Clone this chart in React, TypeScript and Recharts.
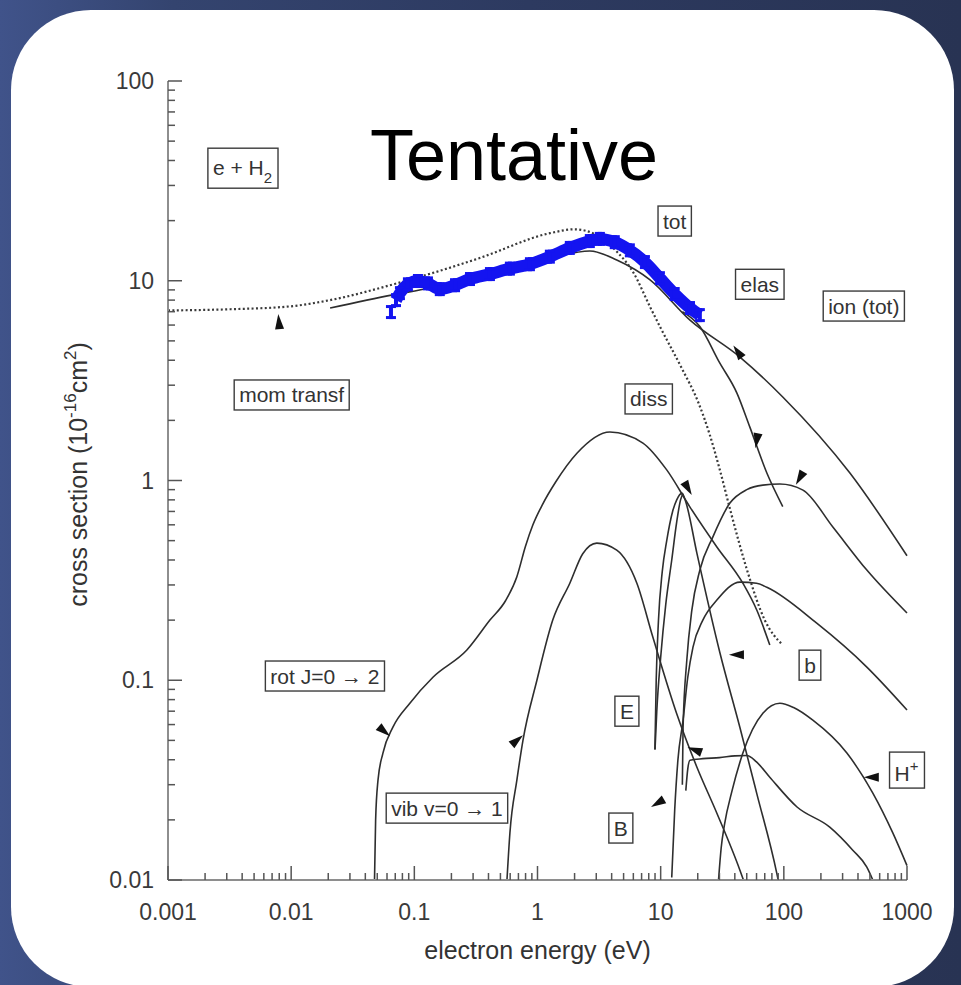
import { ComposedChart, Line, Scatter, XAxis, YAxis } from "recharts";

type Pt = [number, number];

// e + H2 cross sections: electron energy (eV) vs cross section (1e-16 cm^2)
const momTransfer: Pt[] = [
  [0.001, 7.1], [0.0032, 7.2], [0.01, 7.45], [0.0207, 8.0], [0.072, 9.7], [0.34, 13.0],
  [1.26, 17.3], [2.0, 18.1], [3.2, 16.6], [4.4, 14.0], [6.0, 11.0], [8.2, 7.4], [10, 5.8],
  [15, 3.6], [20, 2.5], [25, 1.7], [30, 1.15], [37, 0.7], [50, 0.36], [70, 0.2], [98, 0.15],
];

const totalCs: Pt[] = [
  [0.0207, 7.3], [0.067, 8.5], [0.134, 9.2], [0.34, 10.7], [1.26, 13.0], [2.66, 14.1],
  [4.4, 12.7], [8.2, 10.1], [17.3, 6.35], [44, 4.15], [98, 2.62], [344, 1.09], [1000, 0.42],
];

const elastic: Pt[] = [
  [15, 7.0], [20.8, 5.9], [30, 3.9], [41.6, 2.74], [53, 1.85], [72.8, 1.09], [98, 0.74],
];

const rotational: Pt[] = [
  [0.0475, 0.01], [0.0485, 0.02], [0.0507, 0.0316], [0.0556, 0.0432], [0.067, 0.0582],
  [0.092, 0.0767], [0.1416, 0.1035], [0.267, 0.1416], [0.411, 0.2], [0.55, 0.25],
  [0.68, 0.33], [0.8, 0.47], [0.918, 0.6], [1.1, 0.76], [1.4, 0.98], [2.09, 1.37],
  [3.87, 1.75], [7.18, 1.54], [11.2, 1.13], [17.3, 0.736], [28.6, 0.465], [46.5, 0.306],
  [60.4, 0.224], [76.9, 0.15],
];

const vibrational: Pt[] = [
  [0.565, 0.01], [0.597, 0.0172], [0.68, 0.0316], [0.762, 0.05], [0.989, 0.1], [1.33, 0.2],
  [1.83, 0.306], [2.33, 0.43], [3.03, 0.486], [4.4, 0.448], [6.41, 0.306], [8.65, 0.164],
  [13.5, 0.068], [19.7, 0.0367], [28.6, 0.0216], [44, 0.0112], [47, 0.01],
];

const dissociation: Pt[] = [
  [9.0, 0.045], [9.3, 0.07], [10.0, 0.13], [11.0, 0.24], [12.3, 0.4], [13.5, 0.62],
  [14.5, 0.8], [15.2, 0.86],
];

const tripletB: Pt[] = [
  [8.98, 0.045], [9.2, 0.1], [9.6, 0.2], [10.3, 0.35], [11.2, 0.5], [12.5, 0.7], [13.5, 0.8],
  [14.9, 0.865], [16.0, 0.78], [19.7, 0.432], [30.3, 0.137], [44, 0.058], [60.4, 0.027],
  [87.7, 0.0108], [90, 0.01],
];

const singletB: Pt[] = [
  [12.3, 0.0103], [13.0, 0.0224], [13.8, 0.0398], [15.2, 0.0631], [16.6, 0.1035],
  [18.3, 0.1466], [22, 0.2], [28.6, 0.252], [44, 0.31], [60, 0.306], [72.8, 0.292],
  [185, 0.193], [472, 0.1164], [1000, 0.071],
];

const singletE: Pt[] = [
  [16.0, 0.028], [16.6, 0.036], [17.3, 0.0398], [22, 0.0405], [30, 0.041], [40, 0.0418],
  [50, 0.042], [60, 0.039], [76.9, 0.0327], [128, 0.0232], [236, 0.0184], [363, 0.0141],
  [472, 0.0116], [528, 0.01],
];

const ionTotal: Pt[] = [
  [15.0, 0.03], [15.2, 0.0582], [16.3, 0.126], [17.9, 0.224], [20.8, 0.356], [26.5, 0.521],
  [36.5, 0.771], [50, 0.9], [67.6, 0.948], [92.9, 0.96], [143, 0.895], [250, 0.585],
  [472, 0.356], [1000, 0.217],
];

const protonIon: Pt[] = [
  [29.5, 0.01], [31, 0.0145], [33, 0.019], [38, 0.028], [46.5, 0.0432], [67.6, 0.0684],
  [92.9, 0.0767], [120, 0.073], [172, 0.0631], [325, 0.0432], [528, 0.0272], [767, 0.0172],
  [1000, 0.0118],
];

// measured total cross section (blue)
const measured: Pt[] = [
  [0.0646, 6.97], [0.071, 8.0], [0.0764, 8.67], [0.0887, 9.6], [0.107, 9.97], [0.129, 9.7],
  [0.161, 9.08], [0.214, 9.5], [0.283, 10.2], [0.411, 10.8], [0.597, 11.5], [0.868, 12.1],
  [1.26, 13.2], [1.83, 14.6], [2.66, 15.8], [3.21, 16.2], [4.24, 15.6], [5.62, 14.2],
  [7.45, 12.4], [9.86, 10.3], [13.0, 8.58], [17.3, 7.3], [20.8, 6.73],
];

const xDecades = [0.001, 0.01, 0.1, 1, 10, 100, 1000];
const xTickLabels = ["0.001", "0.01", "0.1", "1", "10", "100", "1000"];
const yDecades = [0.01, 0.1, 1, 10, 100];
const yTickLabels = ["0.01", "0.1", "1", "10", "100"];
const minorSteps = [2, 3, 4, 5, 6, 7, 8, 9];

const curveLabels = [
  { x: 0.00406, y: 36.6, text: "e + H_2" },
  { x: 13.0, y: 19.9, text: "tot" },
  { x: 63.8, y: 9.6, text: "elas" },
  { x: 446, y: 7.47, text: "ion (tot)" },
  { x: 8.0, y: 2.56, text: "diss" },
  { x: 0.0101, y: 2.68, text: "mom transf" },
  { x: 0.0188, y: 0.105, text: "rot J=0 → 2" },
  { x: 0.184, y: 0.0229, text: "vib v=0 → 1" },
  { x: 5.32, y: 0.07, text: "E" },
  { x: 4.75, y: 0.0182, text: "B" },
  { x: 163, y: 0.119, text: "b" },
  { x: 1000, y: 0.0355, text: "H^+" },
];

const pointers = [
  { x: 0.00796, y: 6.21, angle: -95 },
  { x: 42.4, y: 4.4, angle: -125 },
  { x: 60.4, y: 1.59, angle: 100 },
  { x: 135, y: 1.03, angle: 120 },
  { x: 16.6, y: 0.917, angle: 60 },
  { x: 41.6, y: 0.134, angle: 180 },
  { x: 19.0, y: 0.0447, angle: 200 },
  { x: 9.5, y: 0.0243, angle: 150 },
  { x: 0.68, y: 0.05, angle: -40 },
  { x: 0.0567, y: 0.0556, angle: 40 },
  { x: 518, y: 0.0327, angle: 180 },
];

const ink = "#2e2e2e";
const frameColor = "#8e8e8e";
const blue = "#1414f0";
const font = '"Liberation Sans", Arial, Helvetica, sans-serif';

const rows = (pts: Pt[]) => pts.map(([x, y]) => ({ x, y }));

const withMinors = (decades: number[]) =>
  decades.flatMap((d, i) => (i < decades.length - 1 ? [d, ...minorSteps.map((m) => m * d)] : [d]));

const xTicks = withMinors(xDecades);
const yTicks = withMinors(yDecades);

const decadeIndex = (decades: number[], v: number) =>
  decades.findIndex((d) => Math.abs(v / d - 1) < 1e-6);

let measureCtx: CanvasRenderingContext2D | null = null;
const textWidth = (s: string, size: number) => {
  if (!measureCtx) measureCtx = document.createElement("canvas").getContext("2d");
  if (!measureCtx) return s.length * size * 0.55;
  measureCtx.font = `${size}px "Liberation Sans"`;
  return measureCtx.measureText(s).width;
};

const XTick = (p: any) => {
  const { x, y, payload } = p;
  const idx = decadeIndex(xDecades, payload.value);
  const major = idx >= 0;
  return (
    <g>
      <line x1={x} x2={x} y1={y} y2={y - (major ? 14 : 7)} stroke="#555" strokeWidth={1.5} />
      {major && (
        <text x={x} y={y + 40} textAnchor="middle" fontSize={23} fontFamily={font} fill="#3a3a3a">
          {xTickLabels[idx]}
        </text>
      )}
    </g>
  );
};

const YTick = (p: any) => {
  const { x, y, payload } = p;
  const idx = decadeIndex(yDecades, payload.value);
  const major = idx >= 0;
  return (
    <g>
      <line x1={x} x2={x + (major ? 14 : 7)} y1={y} y2={y} stroke="#555" strokeWidth={1.5} />
      {major && (
        <text x={x - 14} y={y + 8} textAnchor="end" fontSize={23} fontFamily={font} fill="#3a3a3a">
          {yTickLabels[idx]}
        </text>
      )}
    </g>
  );
};

const YTitle = (p: any) => {
  const vb = p.viewBox || { x: 108, y: 81, width: 60, height: 799 };
  const cx = vb.x - 21;
  const cy = vb.y + vb.height / 2 - 6;
  return (
    <text
      transform={`translate(${cx},${cy}) rotate(-90)`}
      textAnchor="middle"
      fontSize={25}
      fontFamily={font}
      fill="#333"
    >
      cross section (10
      <tspan dy={-11} fontSize={17}>-16</tspan>
      <tspan dy={11}>cm</tspan>
      <tspan dy={-11} fontSize={17}>2</tspan>
      <tspan dy={11}>)</tspan>
    </text>
  );
};

const XTitle = (p: any) => {
  const vb = p.viewBox || { x: 168, y: 880, width: 739, height: 40 };
  return (
    <text
      x={vb.x + vb.width / 2}
      y={vb.y + 79}
      textAnchor="middle"
      fontSize={25}
      fontFamily={font}
      fill="#333"
    >
      electron energy (eV)
    </text>
  );
};

const LabelBox = (props: any) => {
  const { cx, cy, payload } = props;
  const m = /^(.*?)([_^])(.*)$/.exec(payload.text);
  const base = m ? m[1] : payload.text;
  const script = m ? m[3] : "";
  const isSub = m ? m[2] === "_" : false;
  const size = 21;
  const small = 15;
  const w = textWidth(base, size) + (script ? textWidth(script, small) + 1 : 0) + 10;
  const h = script ? (isSub ? 40 : 36) : 30;
  const top = cy - h / 2;
  const baseY = isSub ? top + 27 : script ? top + 29 : top + 22.5;
  return (
    <g>
      <rect x={cx - w / 2} y={top} width={w} height={h} fill="#fff" stroke="#3c3c3c" strokeWidth={1.4} />
      <text x={cx - w / 2 + 5} y={baseY} fontSize={size} fontFamily={font} fill="#333">
        {base}
        {script && (
          <tspan fontSize={small} dy={isSub ? 8 : -10}>
            {script}
          </tspan>
        )}
      </text>
    </g>
  );
};

const Pointer = (props: any) => {
  const { cx, cy, payload } = props;
  return (
    <polygon
      points="8,0 -7,-4.5 -7,4.5"
      fill="#111"
      transform={`translate(${cx},${cy}) rotate(${payload.angle})`}
    />
  );
};

// data point with error-bar caps
const BlueMark = (props: any) => {
  const { cx, cy } = props;
  return (
    <g fill={blue}>
      <rect x={cx - 2} y={cy - 7} width={4} height={14} />
      <rect x={cx - 5} y={cy - 7} width={10} height={3} />
      <rect x={cx - 5} y={cy + 4} width={10} height={3} />
    </g>
  );
};

const solidCurves: Pt[][] = [
  totalCs, elastic, rotational, vibrational, dissociation, tripletB, singletB, singletE,
  ionTotal, protonIon,
];

export default function App() {
  return (
    <div
      style={{
        position: "fixed",
        left: 0,
        top: 0,
        width: 961,
        height: 985,
        overflow: "hidden",
        background: "linear-gradient(90deg, #40538a 0%, #34446f 18%, #2d3a60 55%, #283353 100%)",
      }}
    >
      <div
        style={{
          position: "absolute",
          left: 11,
          top: 10,
          width: 943,
          height: 977,
          borderRadius: 80,
          background: "#fff",
        }}
      />
      <div style={{ position: "absolute", left: 0, top: 0 }}>
        <ComposedChart width={961} height={985} margin={{ top: 81, right: 54, bottom: 65, left: 108 }}>
          <XAxis
            dataKey="x"
            type="number"
            scale="log"
            domain={[0.001, 1000]}
            ticks={xTicks}
            interval={0}
            tick={(p: any) => <XTick {...p} />}
            tickLine={false}
            tickSize={0}
            tickMargin={0}
            height={40}
            axisLine={{ stroke: frameColor, strokeWidth: 2 }}
            label={{ content: (p: any) => <XTitle {...p} /> }}
          />
          <XAxis
            xAxisId="top"
            orientation="top"
            type="number"
            scale="log"
            domain={[0.001, 1000]}
            tick={false}
            tickLine={false}
            height={0}
            axisLine={{ stroke: frameColor, strokeWidth: 2 }}
          />
          <YAxis
            dataKey="y"
            type="number"
            scale="log"
            domain={[0.01, 100]}
            ticks={yTicks}
            interval={0}
            tick={(p: any) => <YTick {...p} />}
            tickLine={false}
            tickSize={0}
            tickMargin={0}
            width={60}
            axisLine={{ stroke: frameColor, strokeWidth: 2 }}
            label={{ content: (p: any) => <YTitle {...p} /> }}
          />
          <YAxis
            yAxisId="right"
            orientation="right"
            type="number"
            scale="log"
            domain={[0.01, 100]}
            tick={false}
            tickLine={false}
            width={0}
            axisLine={{ stroke: frameColor, strokeWidth: 2 }}
          />

          {solidCurves.map((pts, i) => (
            <Line
              key={`curve-${i}`}
              data={rows(pts)}
              dataKey="y"
              type="monotone"
              stroke={ink}
              strokeWidth={1.6}
              dot={false}
              activeDot={false}
              isAnimationActive={false}
            />
          ))}
          <Line
            data={rows(momTransfer)}
            dataKey="y"
            type="monotone"
            stroke="#3a3a3a"
            strokeWidth={2.2}
            strokeDasharray="2 2.4"
            dot={false}
            activeDot={false}
            isAnimationActive={false}
          />
          <Line
            data={rows(measured.slice(1))}
            dataKey="y"
            type="monotone"
            stroke={blue}
            strokeWidth={12}
            dot={false}
            activeDot={false}
            isAnimationActive={false}
          />
          <Scatter data={rows(measured)} shape={(p: any) => <BlueMark {...p} />} isAnimationActive={false} />
          <Scatter data={pointers} shape={(p: any) => <Pointer {...p} />} isAnimationActive={false} />
          <Scatter data={curveLabels} shape={(p: any) => <LabelBox {...p} />} isAnimationActive={false} />
        </ComposedChart>
      </div>
      <div
        style={{
          position: "absolute",
          left: 0,
          top: 119,
          width: 1028,
          textAlign: "center",
          fontFamily: font,
          fontSize: 72,
          lineHeight: "72px",
          color: "#000",
        }}
      >
        Tentative
      </div>
    </div>
  );
}
